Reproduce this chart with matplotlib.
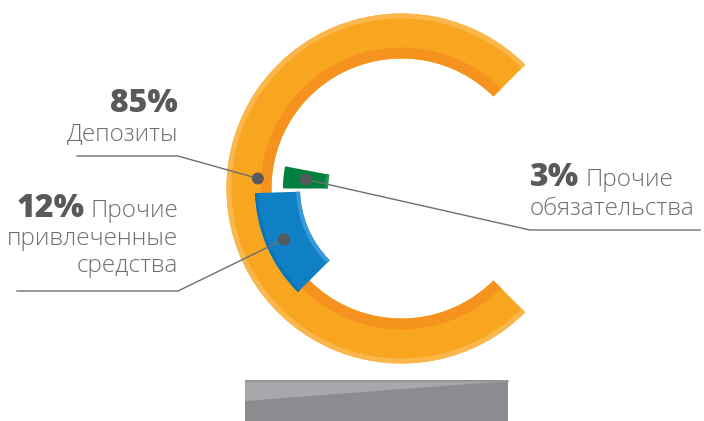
import matplotlib.pyplot as plt
import numpy as np
from matplotlib.patches import Wedge, Circle, Rectangle, Polygon

plt.rcParams['font.family'] = ['Open Sans', 'DejaVu Sans']

# данные
labels = ['Депозиты', 'Прочие привлеченные средства', 'Прочие обязательства']
values = [85, 12, 3]
pct_text = ['85%', '12%', '3%']

W, H = 704, 421
fig = plt.figure(figsize=(W / 100, H / 100), dpi=100)
ax = fig.add_axes([0, 0, 1, 1])
ax.set_xlim(0, W)
ax.set_ylim(0, H)
ax.set_aspect('equal')
ax.axis('off')

def Y(y):  # пиксели картинки -> ось
    return H - y

cx, cy = 401.5, Y(188.5)
deg = 3.6  # градусов на процент для малых сегментов

# большая "C" (депозиты)
c1, c2 = 45, 315
ax.add_patch(Wedge((cx, cy), 175, c1, c2, width=45, color='#F8A61F', lw=0))
ax.add_patch(Wedge((cx, cy), 175, c1, c2, width=5, color='#FBB64C', lw=0))
ax.add_patch(Wedge((cx, cy), 141, c1, c2, width=11, color='#F6931E', lw=0))

# синий сегмент
b2 = 225
b1 = b2 - values[1] * deg
ax.add_patch(Wedge((cx, cy), 146.5, b1, b2, width=45, color='#0F80C3', lw=0))
ax.add_patch(Wedge((cx, cy), 146.5, b1, b2, width=3, color='#0C74B8', lw=0))
ax.add_patch(Wedge((cx, cy), 105.5, b1, b2, width=4, color='#3A9AD7', lw=0))

# зелёный сегмент
g2 = 180
g1 = g2 - values[2] * deg
ax.add_patch(Wedge((cx, cy), 118.5, g1, g2, width=45, color='#00803F', lw=0))
ax.add_patch(Wedge((cx, cy), 76.5, g1, g2, width=3, color='#1E9650', lw=0))

# точки и выноски
dot_c = '#58595B'
line_c = '#6D6E71'

def pt(r, a):
    return cx + r * np.cos(np.radians(a)), cy + r * np.sin(np.radians(a))

d0 = pt(144, 176)
d1 = pt(128, (b1 + b2) / 2)
d2 = pt(96, (g1 + g2) / 2)

ax.plot([77, 178, d0[0]], [Y(156), Y(156), d0[1]], color=line_c, lw=1)
ax.plot([17, 178, d1[0]], [Y(291), Y(291), d1[1]], color=line_c, lw=1)
ax.plot([d2[0], 530, 700], [d2[1], Y(230), Y(230)], color=line_c, lw=1)
for d in (d0, d1, d2):
    ax.add_patch(Circle(d, 6, color=dot_c, lw=0, zorder=5))

# подписи
bold_kw = dict(fontsize=23, fontweight='heavy', color='#58595B')
txt_kw = dict(fontsize=17.5, fontweight='light', color='#6D6E71')

ax.text(178, Y(112), pct_text[0], ha='right', va='baseline', **bold_kw)
ax.text(178, Y(140), labels[0], ha='right', va='baseline', **txt_kw)

t = ax.text(178, Y(217), 'Прочие', ha='right', va='baseline', **txt_kw)
fig.canvas.draw()
bb = t.get_window_extent()
ax.text(bb.x0 - 6, Y(217), pct_text[1], ha='right', va='baseline', **bold_kw)
ax.text(178, Y(245), 'привлеченные', ha='right', va='baseline', **txt_kw)
ax.text(178, Y(272), 'средства', ha='right', va='baseline', **txt_kw)

t = ax.text(530, Y(186), pct_text[2], ha='left', va='baseline', **bold_kw)
fig.canvas.draw()
bb = t.get_window_extent()
ax.text(bb.x1 + 6, Y(186), 'Прочие', ha='left', va='baseline', **txt_kw)
ax.text(530, Y(215), 'обязательства', ha='left', va='baseline', **txt_kw)

# подставка
ax.add_patch(Rectangle((245, Y(421)), 263, 41, color='#8B8C90', lw=0))
ax.add_patch(Polygon([(245, Y(381)), (508, Y(381)), (245, Y(401))],
                     closed=True, color='#A7A8AB', lw=0))
ax.plot([245, 508], [Y(380.5), Y(380.5)], color='#9A9B9E', lw=1)

fig.savefig('out.png', dpi=100)
